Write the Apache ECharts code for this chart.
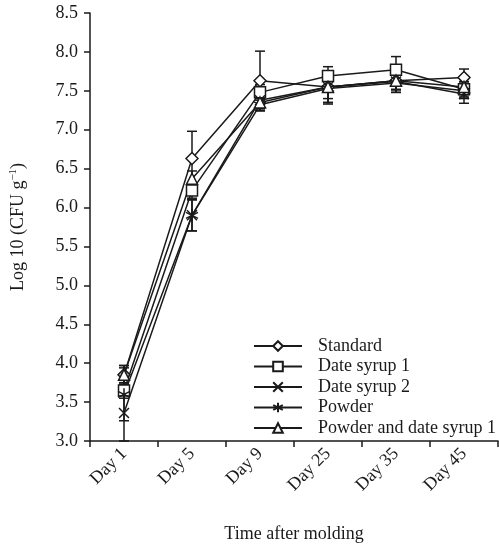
<!DOCTYPE html>
<html><head><meta charset="utf-8">
<script src="https://cdn.jsdelivr.net/npm/echarts@6/dist/echarts.min.js"></script>
<style>html,body{margin:0;padding:0;background:#fff}#c{width:499px;height:548px}</style>
</head><body><div id="c"></div>
<script>
const categories = ['Day 1', 'Day 5', 'Day 9', 'Day 25', 'Day 35', 'Day 45'];
const seriesNames = ['Standard', 'Date syrup 1', 'Date syrup 2', 'Powder', 'Powder and date syrup 1'];

const standard = [3.85, 6.63, 7.63, 7.55, 7.63, 7.67];
const standardErr = [0.12, 0.35, 0.38, 0.15, 0.12, 0.11];
const dateSyrup1 = [3.65, 6.22, 7.48, 7.69, 7.77, 7.52];
const dateSyrup1Err = [0.10, 0.10, 0.10, 0.12, 0.17, 0.10];
const dateSyrup2 = [3.36, 5.90, 7.38, 7.55, 7.62, 7.46];
const dateSyrup2Err = [0.36, 0.20, 0.10, 0.20, 0.10, 0.12];
const powder = [3.60, 5.90, 7.32, 7.53, 7.60, 7.50];
const powderErr = [0.34, 0.20, 0.08, 0.20, 0.12, 0.10];
const powderDate1 = [3.85, 6.37, 7.35, 7.55, 7.63, 7.55];
const powderDate1Err = [0.12, 0.10, 0.08, 0.20, 0.15, 0.10];

const yMin = 3.0, yMax = 8.5, yInterval = 0.5;

const values = [standard, dateSyrup1, dateSyrup2, powder, powderDate1];
const errors = [standardErr, dateSyrup1Err, dateSyrup2Err, powderErr, powderDate1Err];
const symbols = [
  'diamond',
  'rect',
  'path://M0,0L10,10M10,0L0,10',
  'path://M5,0L5,10M0.7,2.5L9.3,7.5M0.7,7.5L9.3,2.5',
  'triangle'
];
const symbolSizes = [12, 11, 10, 12, 11];

const FONT = '"Liberation Serif", "Times New Roman", serif';
const INK = '#1a1a1a';

function errRender(params, api) {
  const x = api.value(0), lo = api.value(1), hi = api.value(2);
  const a = api.coord([x, lo]), b = api.coord([x, hi]);
  const w = 5;
  const st = { stroke: INK, lineWidth: 1.5 };
  return {
    type: 'group',
    children: [
      { type: 'line', shape: { x1: a[0], y1: a[1], x2: b[0], y2: b[1] }, style: st },
      { type: 'line', shape: { x1: b[0] - w, y1: b[1], x2: b[0] + w, y2: b[1] }, style: st },
      { type: 'line', shape: { x1: a[0] - w, y1: a[1], x2: a[0] + w, y2: a[1] }, style: st }
    ]
  };
}

const series = [];
values.forEach((vals, i) => {
  series.push({
    name: 'err' + i,
    type: 'custom',
    renderItem: errRender,
    z: 2,
    silent: true,
    data: vals.map((v, j) => [j, v - errors[i][j], v + errors[i][j]])
  });
});
values.forEach((vals, i) => {
  series.push({
    name: seriesNames[i],
    type: 'line',
    z: 3,
    data: vals,
    symbol: symbols[i],
    symbolSize: symbolSizes[i],
    showAllSymbol: true,
    lineStyle: { color: INK, width: 1.5 },
    itemStyle: { color: '#fff', borderColor: INK, borderWidth: 1.5 },
    animation: false
  });
});

const chart = echarts.init(document.getElementById('c'));
chart.setOption({
  animation: false,
  backgroundColor: '#fff',
  grid: { left: 90, right: 1, top: 13, bottom: 99, containLabel: false },
  legend: {
    data: seriesNames,
    orient: 'vertical',
    left: 248,
    top: 332,
    itemWidth: 48,
    itemHeight: 12,
    itemGap: 2.5,
    textStyle: { fontFamily: FONT, fontSize: 18, color: INK, lineHeight: 18, padding: [0, 0, 0, 11] }
  },
  xAxis: {
    type: 'category',
    data: categories,
    boundaryGap: true,
    name: 'Time after molding',
    nameLocation: 'middle',
    nameGap: 84,
    nameTextStyle: { fontFamily: FONT, fontSize: 18, color: INK },
    axisLine: { lineStyle: { color: INK, width: 1.5 } },
    axisTick: { show: true, inside: false, length: 6, alignWithLabel: false, lineStyle: { color: INK, width: 1.5 } },
    axisLabel: { rotate: 45, margin: 10, fontFamily: FONT, fontSize: 18, color: INK, interval: 0 },
    splitLine: { show: false }
  },
  yAxis: {
    type: 'value',
    min: yMin,
    max: yMax,
    interval: yInterval,
    name: 'Log 10 (CFU g{sup|−1})',
    nameLocation: 'middle',
    nameGap: 61,
    nameRotate: 90,
    nameTextStyle: {
      fontFamily: FONT, fontSize: 18, color: INK,
      rich: { sup: { fontFamily: FONT, fontSize: 11, color: INK, padding: [0, 0, 10, 0] } }
    },
    axisLine: { show: true, lineStyle: { color: INK, width: 1.5 } },
    axisTick: { show: true, inside: false, length: 6, lineStyle: { color: INK, width: 1.5 } },
    axisLabel: { margin: 12, fontFamily: FONT, fontSize: 18, color: INK, formatter: v => v.toFixed(1) },
    splitLine: { show: false }
  },
  series: series
});
</script>
</body></html>
